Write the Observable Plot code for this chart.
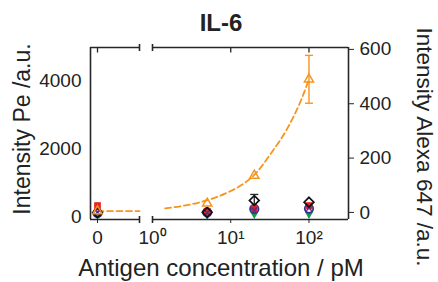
<!DOCTYPE html>
<html><head><meta charset="utf-8">
<script src="https://cdn.jsdelivr.net/npm/d3@7"></script>
<script src="https://cdn.jsdelivr.net/npm/@observablehq/plot@0.6"></script>
<style>
body{margin:0;background:#fff;}
#chart{position:relative;width:438px;height:282px;font-family:"Liberation Sans",Arial,Helvetica,sans-serif;color:#222;overflow:hidden;}
#chart svg{position:absolute;top:0;}
</style></head><body><div id="chart"></div>
<script>
// ---- data ----
const conc = [0, 5, 20, 100];                 // pM
const peRed = [320, 150, 240, 320];
const peBlue = [100, 120, 220, 230];
const peGreen = [30, 30, 60, 60];
const pePurple = [120, 110, 180, 250];
const peBlack = [110, 120, 470, 420];
const peBlackErr = [0, 0, 177, 0];
const alexaOrange = [5, 33, 136, 490];
const alexaOrangeErr = [0, 0, 0, 88];
const fitZeroConc = [0, 6];
const fitZeroVal = [5, 5];
const fitConc = [1.45, 2.65, 4.9, 8.6, 13.4, 19.7, 32.6, 53.8, 78.9, 100];
const fitVal = [15, 26, 44, 70, 99, 136, 217, 313, 412, 490];
const peTicks = [0, 2000, 4000];
const alexaTicks = [0, 200, 400, 600];
const zeroTicks = [0];
const logTicks = [1, 10, 100];
const logTickLabels = ["10⁰", "10¹", "10²"];
const logTopTicks = [10, 100];

// ---- scales ----
const peDomain = [-90, 4970];
const alexaDomain = [-26, 607];
const xZeroDomain = [-1, 6];
const xLogDomain = [1, 320];
const toPe = a => peDomain[0] + (a - alexaDomain[0]) * (peDomain[1] - peDomain[0]) / (alexaDomain[1] - alexaDomain[0]);

const ORANGE = "#f7941d", RED = "#e52421", BLUE = "#2e3192", GREEN = "#1a9850", PURPLE = "#5b2a86", AX = "#262626";

const rows = (vals, errs) => conc.map((c, i) => ({c, v: vals[i], err: errs ? errs[i] : 0}));
const red = rows(peRed), blue = rows(peBlue), green = rows(peGreen), purple = rows(pePurple);
const black = rows(peBlack, peBlackErr);
const orange = rows(alexaOrange, alexaOrangeErr).map(d => ({c: d.c, v: toPe(d.v), lo: toPe(d.v - d.err), hi: toPe(d.v + d.err), err: d.err}));
const blackE = black.map(d => ({c: d.c, v: d.v, lo: d.v - d.err, hi: d.v + d.err, err: d.err}));
const fitZero = fitZeroConc.map((c, i) => ({c, v: toPe(fitZeroVal[i])}));
const fitLog = fitConc.map((c, i) => ({c, v: toPe(fitVal[i])}));

const capSym = {draw(ctx) { ctx.moveTo(-4, 0); ctx.lineTo(4, 0); }};
const breakSym = {draw(ctx) { ctx.moveTo(0, -3.5); ctx.lineTo(0, 3.5); }};
const innerTick = {draw(ctx) { ctx.moveTo(0, 0); ctx.lineTo(0, 5); }};

function dataMarks(filter) {
  const f = {filter};
  return [
    Plot.ruleX(blackE.filter(d => d.err > 0 && filter(d)), {x: "c", y1: "lo", y2: "hi", stroke: AX, strokeWidth: 1.3}),
    Plot.dot(blackE.filter(d => d.err > 0 && filter(d)), {x: "c", y: "hi", symbol: capSym, stroke: AX, strokeWidth: 1.3}),
    Plot.ruleX(orange.filter(d => d.err > 0 && filter(d)), {x: "c", y1: "lo", y2: "hi", stroke: ORANGE, strokeWidth: 1.4}),
    Plot.dot(orange.filter(d => d.err > 0 && filter(d)).flatMap(d => [{c: d.c, y: d.lo}, {c: d.c, y: d.hi}]), {x: "c", y: "y", symbol: capSym, stroke: ORANGE, strokeWidth: 1.4}),
    Plot.dot(green, {...f, x: "c", y: "v", symbol: "triangle", rotate: 180, r: 3, fill: GREEN}),
    Plot.dot(blue, {...f, x: "c", y: "v", symbol: "circle", r: 4.2, stroke: BLUE, strokeWidth: 1.8, fill: "none"}),
    Plot.dot(red, {...f, x: "c", y: "v", symbol: "square", r: 3.8, fill: RED}),
    Plot.dot(purple, {...f, x: "c", y: "v", symbol: "times", r: 2.6, stroke: PURPLE, strokeWidth: 1.5}),
    Plot.dot(black, {...f, x: "c", y: "v", symbol: "diamond2", r: 4.4, stroke: "#111", strokeWidth: 1.7, fill: "none"}),
    Plot.dot(orange, {...f, x: "c", y: "v", symbol: "triangle", r: 3.4, stroke: ORANGE, strokeWidth: 1.5, fill: "none"})
  ];
}

const style = {fontSize: "19px", fontFamily: "'Liberation Sans', Arial, Helvetica, sans-serif", color: "#222", background: "transparent", overflow: "visible"};

const left = Plot.plot({
  width: 146, height: 282, marginLeft: 90, marginRight: 7, marginTop: 47, marginBottom: 63,
  style,
  x: {type: "linear", domain: xZeroDomain},
  y: {type: "linear", domain: peDomain},
  marks: [
    Plot.line(fitZero, {x: "c", y: "v", stroke: ORANGE, strokeWidth: 1.8, strokeDasharray: "6,3.5"}),
    ...dataMarks(d => d.c === 0),
    Plot.ruleY([peDomain[0], peDomain[1]], {stroke: AX, strokeWidth: 1.6}),
    Plot.ruleX([xZeroDomain[0]], {stroke: AX, strokeWidth: 1.6}),
    Plot.dot([peDomain[0], peDomain[1]], {x: () => xZeroDomain[1], y: d => d, symbol: breakSym, stroke: AX, strokeWidth: 1.6}),
    Plot.dot(zeroTicks, {x: d => d, frameAnchor: "top", symbol: innerTick, stroke: AX, strokeWidth: 1.3}),
    Plot.axisY({ticks: peTicks, tickFormat: d => String(d), tickSize: 0, tickPadding: 9, label: null}),
    Plot.axisX({ticks: zeroTicks, tickFormat: d => String(d), tickSize: 4, tickPadding: 7, label: null, stroke: AX})
  ]
});
left.style.left = "0px";

const right = Plot.plot({
  width: 292, height: 282, marginLeft: 6, marginRight: 90, marginTop: 47, marginBottom: 63,
  style,
  x: {type: "log", domain: xLogDomain},
  y: {type: "linear", domain: peDomain},
  marks: [
    Plot.line(fitLog, {x: "c", y: "v", stroke: ORANGE, strokeWidth: 1.8, strokeDasharray: "6,3.5", curve: "monotone-x"}),
    ...dataMarks(d => d.c > 0),
    Plot.ruleY([peDomain[0], peDomain[1]], {stroke: AX, strokeWidth: 1.6}),
    Plot.ruleX([xLogDomain[1]], {stroke: AX, strokeWidth: 1.6}),
    Plot.dot([peDomain[0], peDomain[1]], {x: () => xLogDomain[0], y: d => d, symbol: breakSym, stroke: AX, strokeWidth: 1.6}),
    Plot.dot(logTopTicks, {x: d => d, frameAnchor: "top", symbol: innerTick, stroke: AX, strokeWidth: 1.3}),
    Plot.axisX({ticks: logTicks, tickFormat: d => logTickLabels[logTicks.indexOf(d)], tickSize: 4, tickPadding: 7, label: null, stroke: AX}),
    Plot.axisY({anchor: "right", ticks: alexaTicks.map(toPe), tickFormat: d => String(alexaTicks[alexaTicks.map(toPe).indexOf(d)]), tickSize: 5, tickPadding: 6, label: null, stroke: AX})
  ]
});
right.style.left = "146px";

const chart = document.getElementById("chart");
chart.append(left, right);

// titles and axis labels
const ov = d3.create("svg").attr("width", 438).attr("height", 282).style("left", "0px").style("pointer-events", "none")
  .attr("font-family", "'Liberation Sans', Arial, Helvetica, sans-serif").attr("fill", "#222");
ov.append("text").attr("x", 221).attr("y", 31).attr("text-anchor", "middle").attr("font-size", 24).attr("font-weight", "bold").text("IL-6");
ov.append("text").attr("x", 221).attr("y", 276).attr("text-anchor", "middle").attr("font-size", 24).text("Antigen concentration / pM");
ov.append("text").attr("transform", "translate(30,129) rotate(-90)").attr("text-anchor", "middle").attr("font-size", 23).text("Intensity Pe /a.u.");
ov.append("text").attr("transform", "translate(417,147) rotate(90)").attr("text-anchor", "middle").attr("font-size", 22.5).text("Intensity Alexa 647 /a.u.");
chart.append(ov.node());
</script></body></html>
